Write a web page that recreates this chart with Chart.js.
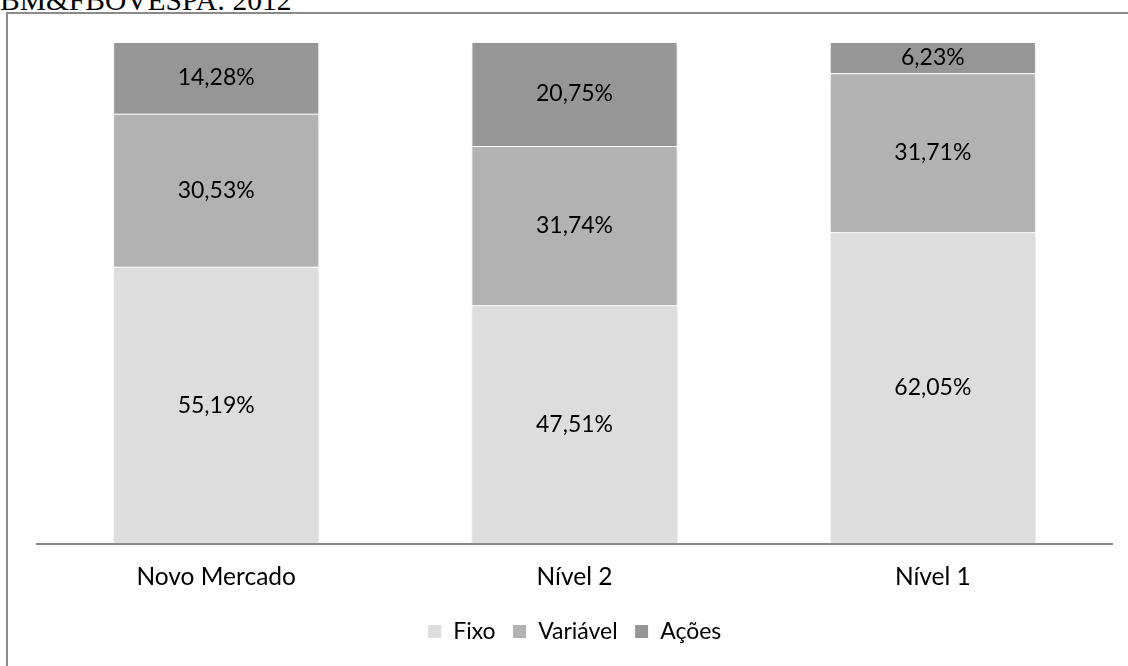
<!DOCTYPE html>
<html>
<head>
<meta charset="utf-8">
<script src="https://cdn.jsdelivr.net/npm/chart.js@4/dist/chart.umd.min.js"></script>
<style>
  html, body { margin: 0; padding: 0; background: #fff; overflow: hidden; }
  #wrap { position: relative; width: 1128px; height: 666px; }
  #title {
    position: absolute; left: 0; top: -16px;
    font-family: "Liberation Serif", serif; font-size: 29.5px; color: #000;
    white-space: nowrap;
  }
  #frame {
    position: absolute; left: 6px; top: 12px; width: 1140px; height: 680px;
    border: 2px solid #8a8a8a; box-sizing: border-box;
  }
  #chart { position: absolute; left: 0; top: 0; }
</style>
</head>
<body>
<div id="wrap">
  <div id="title">BM&amp;FBOVESPA: 2012</div>
  <div id="frame"></div>
  <canvas id="chart" width="1128" height="666"></canvas>
</div>
<script>
const categories = ["Novo Mercado", "Nível 2", "Nível 1"];
const fixo = [55.19, 47.51, 62.05];
const variavel = [30.53, 31.74, 31.71];
const acoes = [14.28, 20.75, 6.23];
const seriesNames = ["Fixo", "Variável", "Ações"];
const seriesColors = ["#dddddd", "#b2b2b2", "#969696"];

const font = "'Lato', 'Open Sans', sans-serif";

// soft shadow round the bars, like the original
const barShadow = {
  id: "barShadow",
  beforeDatasetsDraw(chart) {
    const ctx = chart.ctx;
    ctx.save();
    ctx.shadowColor = "rgba(0,0,0,0.18)";
    ctx.shadowBlur = 5;
    ctx.shadowOffsetX = 1;
    ctx.shadowOffsetY = 2;
  },
  afterDatasetsDraw(chart) {
    chart.ctx.restore();
  },
};

// value labels in the middle of each segment
const valueLabels = {
  id: "valueLabels",
  afterDatasetsDraw(chart) {
    const ctx = chart.ctx;
    ctx.save();
    ctx.font = "23px " + font;
    ctx.fillStyle = "#000";
    ctx.textAlign = "center";
    ctx.textBaseline = "middle";
    chart.data.datasets.forEach((ds, i) => {
      chart.getDatasetMeta(i).data.forEach((bar, j) => {
        const y = (bar.y + bar.base) / 2;
        ctx.fillText(ds.data[j].toFixed(2).replace(".", ",") + "%", bar.x, y);
      });
    });
    ctx.restore();
  },
};

const datasets = [fixo, variavel, acoes].map((values, i) => ({
  label: seriesNames[i],
  data: values,
  backgroundColor: seriesColors[i],
  borderColor: "#ffffff",
  borderWidth: 1,
  barPercentage: 0.575,
  categoryPercentage: 1,
}));

new Chart(document.getElementById("chart"), {
  type: "bar",
  data: { labels: categories, datasets: datasets },
  options: {
    responsive: false,
    animation: false,
    layout: { padding: { left: 37, right: 16, top: 42, bottom: 13 } },
    plugins: {
      tooltip: { enabled: false },
      legend: {
        position: "bottom",
        labels: {
          font: { family: font, size: 23 },
          color: "#000",
          boxWidth: 14,
          boxHeight: 14,
          padding: 17,
        },
      },
    },
    scales: {
      x: {
        stacked: true,
        grid: { display: false },
        border: { color: "#868686", width: 2 },
        ticks: { color: "#000", font: { family: font, size: 24.5 }, padding: 11 },
      },
      y: { stacked: true, display: false, min: 0, max: 100 },
    },
  },
  plugins: [barShadow, valueLabels],
});
</script>
</body>
</html>
